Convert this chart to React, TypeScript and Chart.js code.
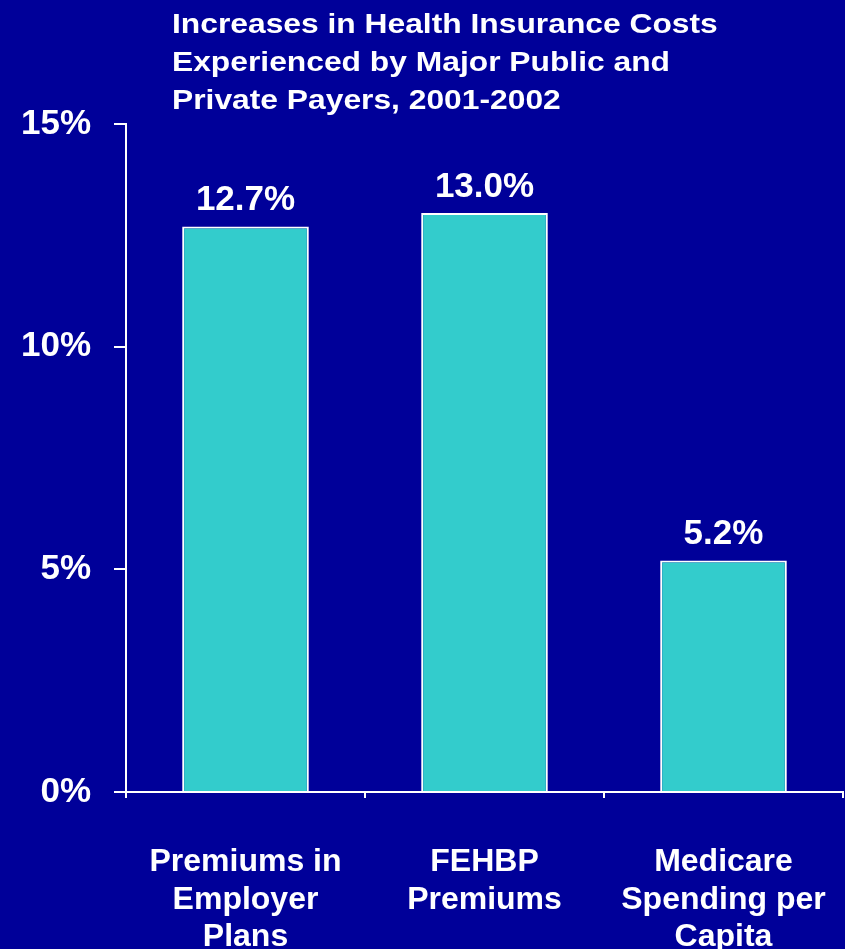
import React, { useEffect, useRef } from "react";
import { Chart, registerables } from "chart.js";

Chart.register(...registerables);

const TITLE_LINES = [
  "Increases in Health Insurance Costs",
  "Experienced by Major Public and",
  "Private Payers, 2001-2002",
];
const CATEGORIES: string[][] = [
  ["Premiums in", "Employer", "Plans"],
  ["FEHBP", "Premiums"],
  ["Medicare", "Spending per", "Capita"],
];
const VALUES = [12.7, 13.0, 5.2];
const VALUE_LABELS = ["12.7%", "13.0%", "5.2%"];
const Y_MIN = 0;
const Y_MAX = 15;
const Y_STEP = 5;

const BG = "#000099";
const BAR = "#33CCCC";
const FONT = "'Liberation Sans', Arial, Helvetica, sans-serif";

const valueLabelPlugin = {
  id: "valueLabels",
  afterDatasetsDraw(chart: any) {
    const ctx = chart.ctx;
    const meta = chart.getDatasetMeta(0);
    ctx.save();
    ctx.fillStyle = "#ffffff";
    ctx.font = `bold 35px ${FONT}`;
    ctx.textAlign = "center";
    ctx.textBaseline = "alphabetic";
    meta.data.forEach((bar: any, i: number) => {
      ctx.fillText(VALUE_LABELS[i], bar.x, bar.y - 16);
    });
    ctx.restore();
  },
};

export default function App() {
  const ref = useRef<HTMLCanvasElement | null>(null);

  useEffect(() => {
    if (!ref.current) return;
    const chart = new Chart(ref.current, {
      type: "bar",
      data: {
        labels: CATEGORIES,
        datasets: [
          {
            data: VALUES,
            backgroundColor: BAR,
            borderColor: "#ffffff",
            borderWidth: 2,
            categoryPercentage: 1,
            barPercentage: 0.53,
          },
        ],
      },
      options: {
        animation: false,
        responsive: false,
        maintainAspectRatio: false,
        layout: { padding: { top: 124, right: 2, bottom: 0, left: 0 } },
        plugins: {
          legend: { display: false },
          title: { display: false },
          tooltip: { enabled: false },
        },
        scales: {
          x: {
            grid: {
              display: true,
              offset: true,
              drawOnChartArea: false,
              drawTicks: true,
              tickLength: 6,
              color: "#ffffff",
              lineWidth: 2,
            },
            border: { display: true, color: "#ffffff", width: 2 },
            ticks: {
              color: "#ffffff",
              font: { family: FONT, size: 32, weight: "bold", lineHeight: 1.16 },
              padding: 46,
              maxRotation: 0,
              autoSkip: false,
            },
            afterFit(scale: any) {
              scale.height = 157;
              scale.paddingLeft = 0;
              scale.paddingRight = 0;
            },
          },
          y: {
            min: Y_MIN,
            max: Y_MAX,
            grid: {
              display: true,
              drawOnChartArea: false,
              drawTicks: true,
              tickLength: 12,
              color: "#ffffff",
              lineWidth: 2,
            },
            border: { display: true, color: "#ffffff", width: 2 },
            ticks: {
              stepSize: Y_STEP,
              color: "#ffffff",
              font: { family: FONT, size: 35, weight: "bold" },
              padding: 23,
              callback: (v: any) => `${v}%`,
            },
            afterFit(scale: any) {
              scale.width = 126;
            },
          },
        },
      },
      plugins: [valueLabelPlugin],
    });
    return () => chart.destroy();
  }, []);

  return (
    <div
      style={{
        position: "absolute",
        left: 0,
        top: 0,
        width: 845,
        height: 949,
        background: BG,
        overflow: "hidden",
      }}
    >
      <canvas
        ref={ref}
        width={845}
        height={949}
        style={{ position: "absolute", left: 0, top: 0, width: 845, height: 949 }}
      />
      <div
        style={{
          position: "absolute",
          left: 172,
          top: 5,
          color: "#ffffff",
          fontFamily: FONT,
          fontWeight: "bold",
          fontSize: 28,
          lineHeight: "38px",
          whiteSpace: "nowrap",
          transform: "scaleX(1.135)",
          transformOrigin: "left top",
        }}
      >
        {TITLE_LINES.map((l, i) => (
          <div key={i}>{l}</div>
        ))}
      </div>
    </div>
  );
}
